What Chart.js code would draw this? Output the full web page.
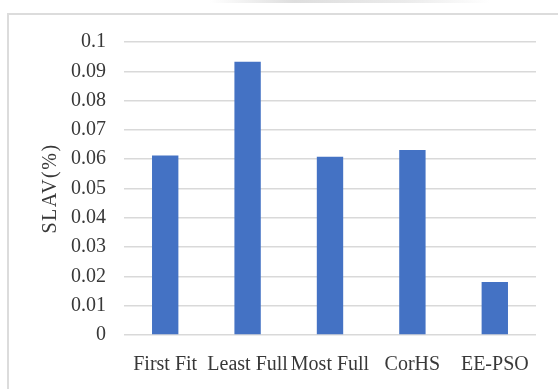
<!DOCTYPE html>
<html>
<head>
<meta charset="utf-8">
<script src="https://cdn.jsdelivr.net/npm/chart.js@4/dist/chart.umd.min.js"></script>
<style>
  html, body { margin: 0; padding: 0; background: #fff; overflow: hidden; }
  #wrap { position: relative; width: 558px; height: 389px; }
  #frame {
    position: absolute; left: 7px; top: 13px; width: 600px; height: 420px;
    border: 2px solid #dcdcdc; box-sizing: border-box;
  }
  #topshade {
    position: absolute; left: 210px; top: 0; width: 280px; height: 3px;
    background: linear-gradient(90deg, rgba(200,200,200,0), rgba(200,200,200,0.6) 30%, rgba(215,215,215,0.5) 70%, rgba(230,220,210,0));
  }
  canvas { position: absolute; left: 0; top: 0; }
</style>
</head>
<body>
<div id="wrap">
  <div id="topshade"></div>
  <div id="frame"></div>
  <canvas id="c" width="558" height="389"></canvas>
</div>
<script>
// Placement algorithms and their SLA violation (%)
const categories = ["First Fit", "Least Full", "Most Full", "CorHS", "EE-PSO"];
const slavValues = [0.0613, 0.0933, 0.0608, 0.0631, 0.0181];
const yTickValues = [0, 0.01, 0.02, 0.03, 0.04, 0.05, 0.06, 0.07, 0.08, 0.09, 0.1];
const yTitle = "SLAV(%)";

const serif = "'Liberation Serif', 'Times New Roman', serif";
const textColor = '#383838';

// Rotated y-axis title with a little letter spacing
const yTitlePlugin = {
  id: 'yTitle',
  afterDraw(chart) {
    const ctx = chart.ctx;
    const y = chart.scales.y;
    ctx.save();
    ctx.translate(51, (y.top + y.bottom) / 2);
    ctx.rotate(-Math.PI / 2);
    ctx.font = "20px " + serif;
    if ('letterSpacing' in ctx) ctx.letterSpacing = '1.5px';
    ctx.fillStyle = textColor;
    ctx.textAlign = 'center';
    ctx.textBaseline = 'middle';
    ctx.fillText(yTitle, 0, 0);
    ctx.restore();
  }
};

new Chart(document.getElementById('c'), {
  type: 'bar',
  data: {
    labels: categories,
    datasets: [{
      data: slavValues,
      backgroundColor: '#4472C4',
      borderWidth: 0,
      categoryPercentage: 0.8,
      barPercentage: 0.4
    }]
  },
  options: {
    responsive: false,
    animation: false,
    devicePixelRatio: 1,
    layout: { padding: { top: 42, right: 22, bottom: 0, left: 0 } },
    plugins: {
      legend: { display: false },
      tooltip: { enabled: false }
    },
    scales: {
      x: {
        grid: { display: false, drawTicks: false },
        border: { display: false },
        ticks: {
          color: textColor,
          font: { family: serif, size: 20 },
          padding: 18,
          maxRotation: 0,
          autoSkip: false
        },
        afterFit(scale) { scale.height = 54; }
      },
      y: {
        min: 0,
        max: 0.1,
        afterBuildTicks(scale) {
          scale.ticks = yTickValues.map(v => ({ value: v }));
        },
        grid: { color: '#d9d9d9', lineWidth: 1.5, drawTicks: false },
        border: { display: false },
        ticks: {
          color: textColor,
          font: { family: serif, size: 20 },
          padding: 18,
          callback: v => String(v)
        },
        afterFit(scale) { scale.width = 124; }
      }
    }
  },
  plugins: [yTitlePlugin]
});
</script>
</body>
</html>
